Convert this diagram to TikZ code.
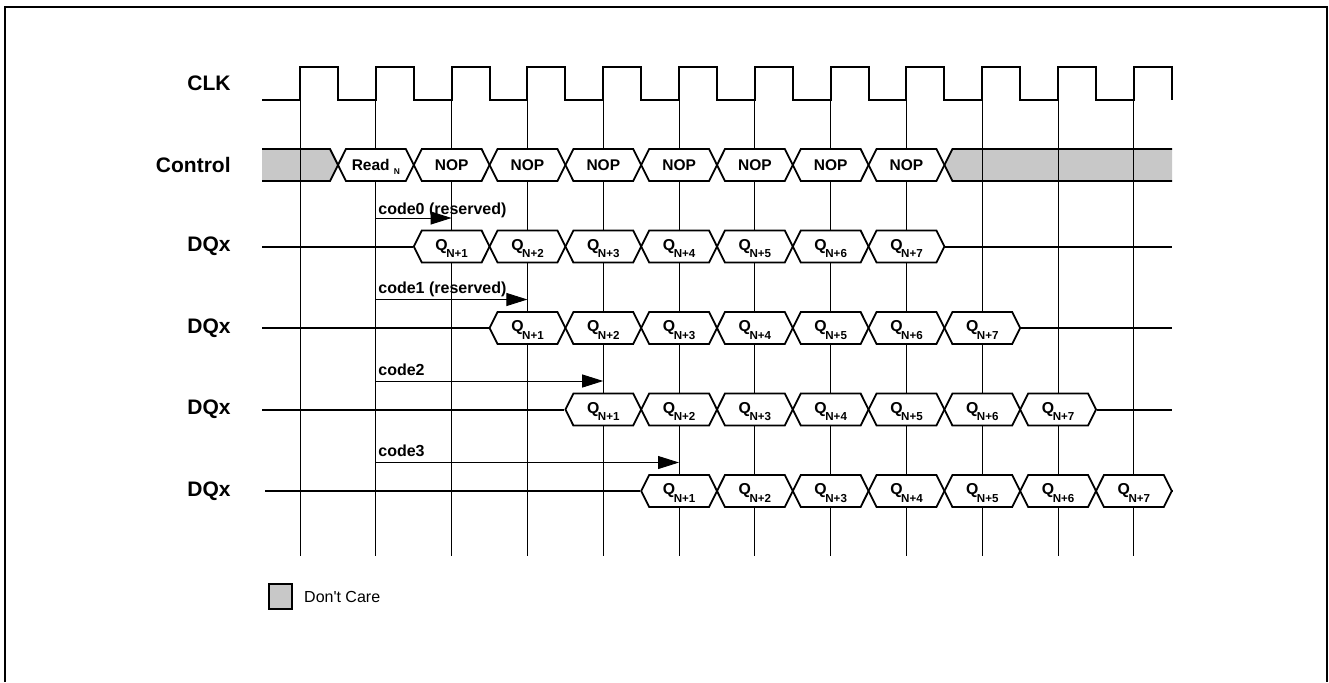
\documentclass[tikz,border=0pt]{standalone}
\usepackage{fontspec}
\setmainfont{Liberation Sans}
\usepackage{xcolor}
\usetikzlibrary{shapes.symbols, arrows.meta, positioning}

\definecolor{dcgray}{RGB}{200,200,200}
\newcommand{\qsub}[1]{{\fontsize{7.9}{8}\selectfont Q}\kern-0.7pt\raisebox{-3.6pt}[0pt][0.6pt]{\fontsize{5.8}{6}\selectfont #1}}

\begin{document}
\begin{tikzpicture}[
  x=0.5pt, y=-0.5pt,
  lbl/.style={anchor=east, inner sep=0pt, font=\fontsize{10.5}{12}\selectfont\bfseries},
  cell/.style={signal, signal to=west and east, signal pointer angle=127, draw,
               fill=white, line width=0.9pt, minimum width=37.9pt,
               minimum height=16pt, inner sep=0pt, font=\fontsize{7.75}{9}\selectfont\bfseries},
  dcfill/.style={fill=dcgray},
  grid/.style={line width=0.45pt},
  wave/.style={line width=1pt},
  code/.style={anchor=base west, inner sep=0pt, font=\fontsize{8}{9.5}\selectfont\bfseries},
  arrow/.style={-{Triangle[length=10.5pt, width=6.5pt]}, line width=0.45pt}
]
\useasboundingbox (0,0) rectangle (1329,682);

% Frame
\draw[line width=0.8pt] (5,682) -- (5,7) -- (1327,7) -- (1327,682);

% Don't care regions of Control (y=165)
\fill[dcfill] (262,149) -- (330,149) -- (338,165) -- (330,181) -- (262,181) -- cycle;
\fill[dcfill] (1172,149) -- (952.4,149) -- (944.4,165) -- (952.4,181) -- (1172,181) -- cycle;
\draw[line width=0.9pt] (262,149) -- (330,149) -- (338,165) -- (330,181) -- (262,181);
\draw[line width=0.9pt] (1172,149) -- (952.4,149) -- (944.4,165) -- (952.4,181) -- (1172,181);

% Grid at rising clock edges
\foreach \k in {0,...,11}
  \draw[grid] ({300+75.8*\k},67) -- ({300+75.8*\k},556);

% CLK (y=83.5)
\draw[wave] (262,100) foreach \k in {0,...,11} {
  -- ({300+75.8*\k},100) -- ++(0,-33) -- ++(37.9,0) -- ++(0,33) };

% Control commands
\node[cell] (rd) at (375.9,165) {Read \raisebox{-2.2pt}[0pt][0pt]{\fontsize{4.2}{5}\selectfont N}};
\foreach \i in {1,...,7}
  \node[cell] (nop\i) at ({375.9+75.8*\i},165) {NOP};

% DQx rows
\foreach \r/\yy/\xs in {1/246.5/262, 2/328/262, 3/409.5/262, 4/491/265} {
  \foreach \i in {1,...,7}
    \node[cell] (q\r-\i) at ({375.9+75.8*(\r+\i-1)},\yy) {\qsub{N+\i}};
  \coordinate (in\r)  at (\xs,\yy);
  \coordinate (out\r) at (1172,\yy);
  \draw[wave] (in\r) -- (q\r-1.west);
  \draw[wave] (q\r-7.east) -- (out\r);
}

% Latency arrows
\coordinate (c0s) at (375.8,218);   \coordinate (c0e) at (451.6,218);
\coordinate (c1s) at (375.8,299.5); \coordinate (c1e) at (527.4,299.5);
\coordinate (c2s) at (375.8,381);   \coordinate (c2e) at (603.2,381);
\coordinate (c3s) at (375.8,462.5); \coordinate (c3e) at (679,462.5);
\draw[arrow] (c0s) -- (c0e);
\draw[arrow] (c1s) -- (c1e);
\draw[arrow] (c2s) -- (c2e);
\draw[arrow] (c3s) -- (c3e);
\node[code] (code0) at (378,214)   {code0 (reserved)};
\node[code] (code1) at (378,293)   {code1 (reserved)};
\node[code] (code2) at (378,375)   {code2};
\node[code] (code3) at (378,456.5) {code3};

% Row labels
\node[lbl] (clk)  at (231,83.5)  {CLK};
\node[lbl] (ctrl) at (231,165)   {Control};
\node[lbl] (dq1)  at (231,246.5) {DQx};
\node[lbl] (dq2)  at (231,328)   {DQx};
\node[lbl] (dq3)  at (231,409.5) {DQx};
\node[lbl] (dq4)  at (231,491)   {DQx};

% Legend
\node[draw, fill=dcgray, line width=0.8pt, minimum width=11.5pt,
      minimum height=12.5pt, inner sep=0pt] (dcbox) at (280.5,596.5) {};
\node[right=5.5pt of dcbox, inner sep=0pt, font=\fontsize{8}{9.5}\selectfont] (dctext) {Don\textquotesingle t Care};
\end{tikzpicture}
\end{document}
